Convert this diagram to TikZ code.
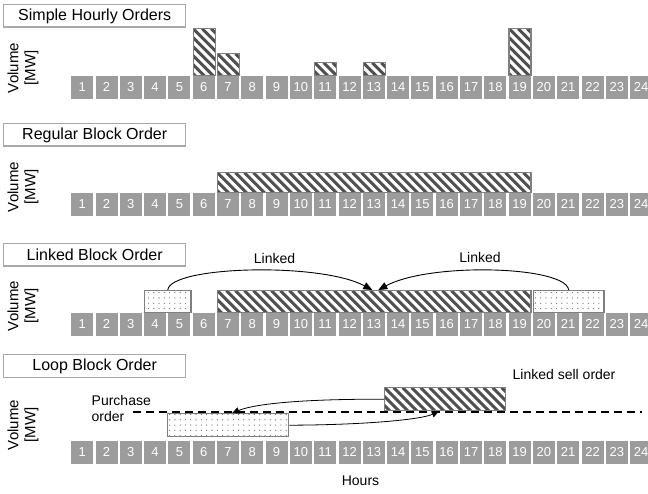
\documentclass[tikz,border=0pt]{standalone}
\usepackage{fontspec}
\setmainfont{Liberation Sans}
\usetikzlibrary{patterns.meta,arrows.meta}
\definecolor{cellgray}{HTML}{9C9C9C}
\definecolor{barborder}{HTML}{7F7F7F}
\definecolor{hatchcol}{HTML}{505050}
\definecolor{titleborder}{HTML}{A8A8A8}
\definecolor{dotcol}{HTML}{707070}
\begin{document}
\begin{tikzpicture}[x=1pt,y=-1pt,
  cell/.style={fill=cellgray, text=white, minimum width=22pt, minimum height=22.5pt, inner sep=0pt, anchor=north west, font=\fontsize{13}{13}\selectfont},
  titlebox/.style={draw=titleborder, line width=1.4pt, fill=white, minimum width=182pt, minimum height=22.5pt, inner sep=0pt, anchor=north west, font=\fontsize{16}{16}\selectfont},
  hatchbar/.style={draw=barborder, line width=1.4pt, inner sep=0pt, anchor=north west,
    path picture={\foreach \k in {-54,-45,...,330}{\draw[hatchcol, line width=3pt] ([xshift=\k pt]path picture bounding box.north west) -- ++(52,52);}}},
  dotbar/.style={draw=barborder, line width=1.4pt, pattern={Dots[radius=0.65pt,distance=5.3pt]}, pattern color=dotcol, inner sep=0pt, anchor=north west},
  vol/.style={rotate=90, align=center, font=\fontsize{15}{17}\selectfont},
  lbl/.style={inner sep=0pt, font=\fontsize{14}{16}\selectfont},
  link/.style={line width=0.9pt, -{Triangle[length=9pt,width=7.5pt]}},
  slink/.style={line width=0.8pt, -{Triangle[length=7pt,width=6.5pt]}},
  baseline/.style={line width=1.3pt, dash pattern=on 8pt off 5pt},
]
\useasboundingbox (0,0) rectangle (648,494);
\clip (0,0) rectangle (648,494);
% hour cells
\foreach \r/\yy in {1/76,2/193,3/313,4/441}{
  \foreach \i in {1,...,24}{
    \node[cell] (c\r-\i) at ({71+(\i-1)*24.3},\yy) {\i};
  }
}
% titles
\node[titlebox] (t1) at (3,4) {Simple Hourly Orders};
\node[titlebox] (t2) at (3,123) {Regular Block Order};
\node[titlebox] (t3) at (3,243) {Linked Block Order};
\node[titlebox] (t4) at (3,354) {Loop Block Order};
% volume labels
\node[vol] (v1) at (23,68) {Volume\\{}[MW]};
\node[vol] (v2) at (23,187) {Volume\\{}[MW]};
\node[vol] (v3) at (23,306) {Volume\\{}[MW]};
\node[vol] (v4) at (23,425) {Volume\\{}[MW]};
% row 1: simple hourly orders
\node[hatchbar, minimum width=22pt, minimum height=47pt] (b1-6) at (192.5,28) {};
\node[hatchbar, minimum width=22pt, minimum height=22pt] (b1-7) at (216.8,53) {};
\node[hatchbar, minimum width=22pt, minimum height=13pt] (b1-11) at (314,62) {};
\node[hatchbar, minimum width=22pt, minimum height=13pt] (b1-13) at (362.6,62) {};
\node[hatchbar, minimum width=22pt, minimum height=47pt] (b1-19) at (508.4,28) {};
% row 2: regular block
\node[hatchbar, minimum width=313.6pt, minimum height=20pt] (b2) at (216.8,172) {};
% row 3: linked block
\node[dotbar, minimum width=46.3pt, minimum height=22pt] (d3a) at (143.9,290) {};
\node[hatchbar, minimum width=313.6pt, minimum height=22pt] (h3) at (216.8,290) {};
\node[dotbar, minimum width=70.6pt, minimum height=22pt] (d3b) at (532.7,290) {};
\node[lbl] (lk1) at (274.5,258) {Linked};
\node[lbl] (lk2) at (480,257) {Linked};
\draw[link] (d3a.north) .. controls (170,266) and (320,262) .. ([xshift=-2pt]h3.north);
\draw[link] (d3b.north) .. controls (566,266) and (430,262) .. ([xshift=4pt]h3.north);
% row 4: loop block
\coordinate (dl) at (133,412);
\coordinate (dr) at (642,412);
\draw[baseline] (dl) -- (dr);
\node[dotbar, minimum width=121pt, minimum height=23pt] (p4) at (167,413) {};
\node[hatchbar, minimum width=121pt, minimum height=23pt] (s4) at (384,387) {};
\node[lbl, anchor=west, align=left] (po) at (91.5,408) {Purchase\\order};
\node[lbl, anchor=west] (lso) at (512.5,374) {Linked sell order};
\draw[slink] (s4.west) .. controls (320,399) and (260,402) .. ([xshift=4pt]p4.north);
\draw[slink] (p4.east) .. controls (360,425) and (420,420) .. ([xshift=-6.5pt]s4.south);
% axis label
\node[lbl] (hrs) at (360.5,481) {Hours};
\end{tikzpicture}
\end{document}
